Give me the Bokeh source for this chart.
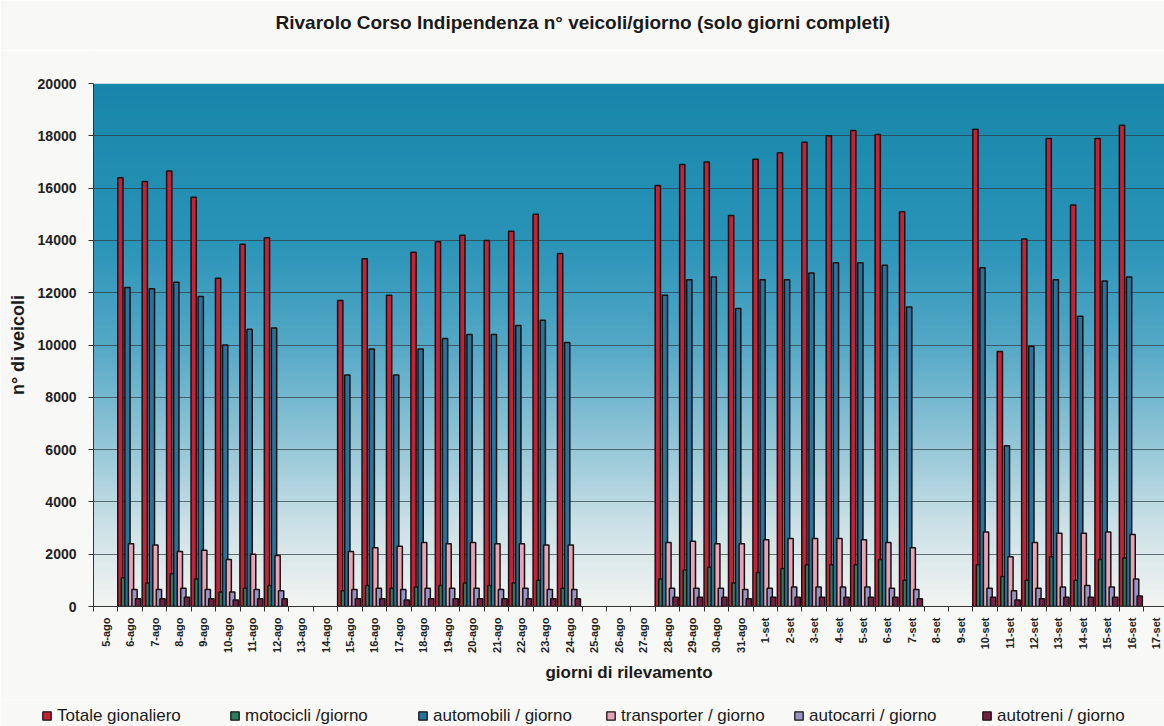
import numpy as np
from bokeh.plotting import figure
from bokeh.models import (Range1d, FixedTicker, ColumnDataSource, Legend, LegendItem)
from bokeh.layouts import column, row
from bokeh.embed import file_html
from bokeh.resources import INLINE

# ---------------- data ----------------
days = ["5-ago", "6-ago", "7-ago", "8-ago", "9-ago", "10-ago", "11-ago", "12-ago",
        "13-ago", "14-ago", "15-ago", "16-ago", "17-ago", "18-ago", "19-ago", "20-ago",
        "21-ago", "22-ago", "23-ago", "24-ago", "25-ago", "26-ago", "27-ago", "28-ago",
        "29-ago", "30-ago", "31-ago", "1-set", "2-set", "3-set", "4-set", "5-set",
        "6-set", "7-set", "8-set", "9-set", "10-set", "11-set", "12-set", "13-set",
        "14-set", "15-set", "16-set", "17-set"]

N = None
totale = [N, 16400, 16250, 16650, 15650, 12550, 13850, 14100, N, N,
          11700, 13300, 11900, 13550, 13950, 14200, 14000, 14350, 15000, 13500,
          N, N, N, 16100, 16900, 17000, 14950, 17100, 17350, 17750, 18000, 18200,
          18050, 15100, N, N, 18250, 9750, 14050, 17900, 15350, 17900, 18400, N]
motocicli = [N, 1100, 900, 1250, 1050, 550, 700, 800, N, N,
             600, 800, 700, 750, 800, 900, 800, 900, 1000, 700,
             N, N, N, 1050, 1400, 1500, 900, 1300, 1450, 1600, 1600, 1600,
             1800, 1000, N, N, 1600, 1150, 1000, 1900, 1000, 1800, 1850, N]
automobili = [N, 12200, 12150, 12400, 11850, 10000, 10600, 10650, N, N,
              8850, 9850, 8850, 9850, 10250, 10400, 10400, 10750, 10950, 10100,
              N, N, N, 11900, 12500, 12600, 11400, 12500, 12500, 12750, 13150, 13150,
              13050, 11450, N, N, 12950, 6150, 9950, 12500, 11100, 12450, 12600, N]
transporter = [N, 2400, 2350, 2100, 2150, 1800, 2000, 1950, N, N,
               2100, 2250, 2300, 2450, 2400, 2450, 2400, 2400, 2350, 2350,
               N, N, N, 2450, 2500, 2400, 2400, 2550, 2600, 2600, 2600, 2550,
               2450, 2250, N, N, 2850, 1900, 2450, 2800, 2800, 2850, 2750, N]
autocarri = [N, 650, 650, 700, 650, 550, 650, 600, N, N,
             650, 700, 650, 700, 700, 700, 650, 700, 650, 650,
             N, N, N, 700, 700, 700, 650, 700, 750, 750, 750, 750,
             700, 650, N, N, 700, 600, 700, 750, 800, 750, 1050, N]
autotreni = [N, 300, 300, 350, 300, 250, 300, 300, N, N,
             300, 300, 250, 300, 300, 300, 300, 300, 300, 300,
             N, N, N, 350, 350, 350, 300, 350, 350, 350, 350, 350,
             350, 300, N, N, 350, 250, 300, 350, 350, 350, 400, N]

series_names = ["Totale gionaliero", "motocicli /giorno", "automobili / giorno",
                "transporter / giorno", "autocarri / giorno", "autotreni / giorno"]
series_values = [totale, motocicli, automobili, transporter, autocarri, autotreni]
series_colors = ["#C42238", "#2A7E62", "#26739E", "#E6A4B4", "#9696C6", "#742040"]

y_ticks = [0, 2000, 4000, 6000, 8000, 10000, 12000, 14000, 16000, 18000, 20000]

# ---------------- figures ----------------
FONT = "Liberation Sans"
PAGE = "#F8F8F6"
W = 1164
H_TITLE, H_MAIN, H_LEG = 50, 650, 26
XMAX = 43.84


def blank_fig(h, **kw):
    f = figure(width=W, height=h, output_backend="svg", toolbar_location=None,
               x_range=Range1d(-2, -1), y_range=Range1d(0, 1),
               x_axis_location=None, y_axis_location=None,
               min_border_left=0, min_border_right=0, min_border_top=0,
               min_border_bottom=0, **kw)
    f.grid.visible = False
    f.outline_line_color = None
    f.background_fill_color = PAGE
    f.border_fill_color = PAGE
    return f


# title strip
pt = blank_fig(H_TITLE)
pt.title.text = "Rivarolo Corso Indipendenza n° veicoli/giorno (solo giorni completi)"
pt.title.text_font = FONT
pt.title.text_font_size = "19px"
pt.title.text_font_style = "bold"
pt.title.text_color = "#1a1a1a"
pt.title.align = "left"
pt.title.offset = 182
pt.title.vertical_align = "top"
pt.title.standoff = 22

# main chart
p = figure(width=W, height=H_MAIN, output_backend="svg", toolbar_location=None,
           x_range=Range1d(0, XMAX), y_range=Range1d(0, 20000),
           min_border_left=93, min_border_right=0, min_border_top=33,
           min_border_bottom=94)
p.background_fill_color = "white"
p.border_fill_color = PAGE
p.outline_line_color = None

# gradient background (style only)
stops_y = np.array([0, 3000, 6000, 10000, 14000, 20000], dtype=float)
stops_c = np.array([[242, 244, 242], [205, 226, 231], [150, 200, 216],
                    [84, 168, 198], [42, 148, 184], [22, 135, 170]], dtype=float)
rows = 200
yy = np.linspace(0, 20000, rows)
img = np.empty((rows, 1), dtype=np.uint32)
view = img.view(dtype=np.uint8).reshape((rows, 1, 4))
for k in range(3):
    view[:, 0, k] = np.interp(yy, stops_y, stops_c[:, k]).astype(np.uint8)
view[:, 0, 3] = 255
bg = p.image_rgba(image=[img], x=0, y=0, dw=XMAX, dh=20000)
bg.level = "image"

# legend strip (its renderers share the data but lie outside its view)
pl = blank_fig(H_LEG)

offsets = [0.10, 0.245, 0.39, 0.535, 0.68, 0.825]
bar_w = 0.215
items = []
for name, vals, col, off in zip(series_names, series_values, series_colors, offsets):
    xs = [i + off for i, v in enumerate(vals) if v is not None]
    ts = [v for v in vals if v is not None]
    src = ColumnDataSource(dict(x=xs, top=ts))
    p.vbar(x="x", top="top", bottom=0, width=bar_w, source=src,
           fill_color=col, line_color="#1a1212", line_width=1.5)
    r = pl.scatter(x="x", y="top", marker="square", size=9, source=src,
                   fill_color=col, line_color="#1a1212", line_width=1.3)
    items.append(LegendItem(label=name, renderers=[r]))

# axes
p.xaxis.ticker = FixedTicker(ticks=[i + 0.5 for i in range(len(days))],
                             minor_ticks=list(range(0, len(days) + 1)))
p.xaxis.major_label_overrides = {i + 0.5: d for i, d in enumerate(days)}
p.xaxis.major_label_orientation = np.pi / 2
p.xaxis.major_tick_out = 0
p.xaxis.major_tick_in = 0
p.xaxis.minor_tick_out = 5
p.xaxis.minor_tick_in = 0
p.xaxis.major_label_standoff = 6
p.xaxis.axis_label = "giorni di rilevamento"
p.xaxis.axis_label_standoff = 7

p.yaxis.ticker = FixedTicker(ticks=y_ticks)
p.yaxis.major_tick_out = 5
p.yaxis.major_tick_in = 0
p.yaxis.minor_tick_line_color = None
p.yaxis.major_label_standoff = 12
p.yaxis.axis_label = "n° di veicoli"
p.yaxis.axis_label_standoff = 7

for ax in (p.xaxis[0], p.yaxis[0]):
    ax.axis_line_color = "#333333"
    ax.major_tick_line_color = "#333333"
    ax.minor_tick_line_color = "#333333" if ax is p.xaxis[0] else None
    ax.major_label_text_font = FONT
    ax.major_label_text_font_style = "bold"
    ax.major_label_text_color = "#222222"
    ax.axis_label_text_font = FONT
    ax.axis_label_text_font_style = "bold"
    ax.axis_label_text_color = "#1a1a1a"
    ax.axis_label_text_font_size = "17px"
p.xaxis.major_label_text_font_size = "11px"
p.yaxis.major_label_text_font_size = "14px"
p.yaxis.axis_label_text_font_size = "18px"

p.xgrid.grid_line_color = None
p.ygrid.ticker = FixedTicker(ticks=y_ticks)
p.ygrid.grid_line_color = "#2a3a40"
p.ygrid.grid_line_alpha = 0.7
p.ygrid.grid_line_width = 1

legend = Legend(items=items, orientation="horizontal", location=(36, 0),
                glyph_width=21, glyph_height=21, label_width=157, spacing=10,
                label_standoff=0, padding=0, margin=0,
                label_text_font=FONT, label_text_font_size="17px",
                label_text_color="#1a1a1a", border_line_color=None,
                background_fill_alpha=0)
pl.add_layout(legend, "center")

layout = column(pt, p, row(pl), spacing=0)
open("out.html", "w").write(file_html(layout, INLINE))
